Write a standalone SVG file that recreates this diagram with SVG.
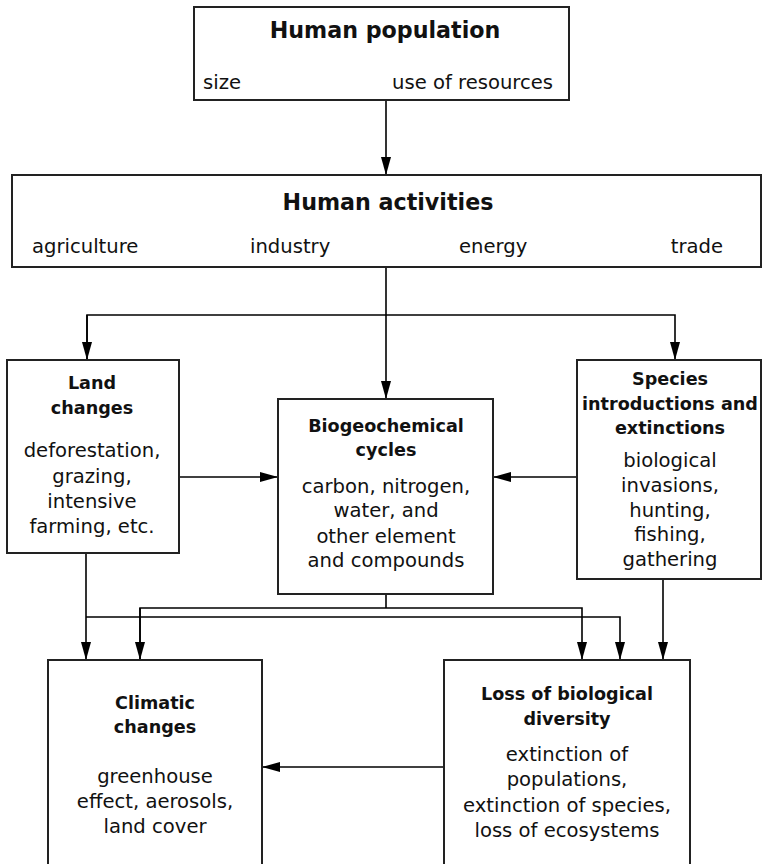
<svg xmlns="http://www.w3.org/2000/svg" width="765" height="864" viewBox="0 0 765 864">
  <style>
    .box { fill: #ffffff; stroke: #222222; stroke-width: 2; }
    .wire { fill: none; stroke: #000000; stroke-width: 1.6; }
    text { font-family: "DejaVu Sans", "Open Sans", sans-serif; font-size: 19.6px; fill: #111111; }
    .t { font-weight: bold; font-size: 17.6px; }
    .big { font-weight: bold; font-size: 22.2px; }
    .c { text-anchor: middle; }
  </style>
  <defs>
    <marker id="arrow" markerWidth="18" markerHeight="10" refX="18" refY="5" orient="auto" markerUnits="userSpaceOnUse">
      <path d="M0,0 L18,5 L0,10 Z" fill="#000000"/>
    </marker>
  </defs>
  <rect width="765" height="864" fill="#ffffff"/>

  <!-- connectors -->
  <g id="connectors" class="wire">
    <line x1="386" y1="100" x2="386" y2="175" marker-end="url(#arrow)"/>
    <line x1="386" y1="267" x2="386" y2="399" marker-end="url(#arrow)"/>
    <polyline points="87,360 87,315 675,315 675,360" marker-end="url(#arrow)"/>
    <line x1="87" y1="315" x2="87" y2="360" marker-end="url(#arrow)"/>
    <line x1="179" y1="477" x2="278" y2="477" marker-end="url(#arrow)"/>
    <line x1="577" y1="477" x2="493" y2="477" marker-end="url(#arrow)"/>
    <line x1="386" y1="594" x2="386" y2="608"/>
    <polyline points="140,660 140,608 582,608 582,660" marker-end="url(#arrow)"/>
    <line x1="140" y1="608" x2="140" y2="660" marker-end="url(#arrow)"/>
    <line x1="86" y1="553" x2="86" y2="660" marker-end="url(#arrow)"/>
    <polyline points="86,617 620,617 620,660" marker-end="url(#arrow)"/>
    <line x1="663" y1="579" x2="663" y2="660" marker-end="url(#arrow)"/>
    <line x1="444" y1="767" x2="262" y2="767" marker-end="url(#arrow)"/>
  </g>

  <g id="human-population">
    <rect class="box" x="194" y="7" width="375" height="93"/>
    <text class="big c" x="385" y="38">Human population</text>
    <text x="203" y="89">size</text>
    <text x="553" y="89" text-anchor="end">use of resources</text>
  </g>

  <g id="human-activities">
    <rect class="box" x="12" y="175" width="749" height="92"/>
    <text class="big c" x="388" y="210">Human activities</text>
    <text x="32" y="253">agriculture</text>
    <text x="250" y="253">industry</text>
    <text x="459" y="253">energy</text>
    <text x="723" y="253" text-anchor="end">trade</text>
  </g>

  <g id="land-changes">
    <rect class="box" x="7" y="360" width="172" height="193"/>
    <text class="t c" x="92" y="389">Land</text>
    <text class="t c" x="92" y="414">changes</text>
    <text class="c" x="92" y="457">deforestation,</text>
    <text class="c" x="92" y="483">grazing,</text>
    <text class="c" x="92" y="508">intensive</text>
    <text class="c" x="92" y="533">farming, etc.</text>
  </g>

  <g id="biogeochemical-cycles">
    <rect class="box" x="278" y="399" width="215" height="195"/>
    <text class="t c" x="386" y="432">Biogeochemical</text>
    <text class="t c" x="386" y="456">cycles</text>
    <text class="c" x="386" y="493">carbon, nitrogen,</text>
    <text class="c" x="386" y="517">water, and</text>
    <text class="c" x="386" y="543">other element</text>
    <text class="c" x="386" y="567">and compounds</text>
  </g>

  <g id="species-introductions">
    <rect class="box" x="577" y="360" width="184" height="219"/>
    <text class="t c" x="670" y="385">Species</text>
    <text class="t c" x="670" y="410">introductions and</text>
    <text class="t c" x="670" y="434">extinctions</text>
    <text class="c" x="670" y="467">biological</text>
    <text class="c" x="670" y="492">invasions,</text>
    <text class="c" x="670" y="517">hunting,</text>
    <text class="c" x="670" y="541">fishing,</text>
    <text class="c" x="670" y="566">gathering</text>
  </g>

  <g id="climatic-changes">
    <rect class="box" x="48" y="660" width="214" height="214"/>
    <text class="t c" x="155" y="709">Climatic</text>
    <text class="t c" x="155" y="733">changes</text>
    <text class="c" x="155" y="783">greenhouse</text>
    <text class="c" x="155" y="808">effect, aerosols,</text>
    <text class="c" x="155" y="833">land cover</text>
  </g>

  <g id="loss-of-biodiversity">
    <rect class="box" x="444" y="660" width="246" height="214"/>
    <text class="t c" x="567" y="700">Loss of biological</text>
    <text class="t c" x="567" y="725">diversity</text>
    <text class="c" x="567" y="761">extinction of</text>
    <text class="c" x="567" y="786">populations,</text>
    <text class="c" x="567" y="812">extinction of species,</text>
    <text class="c" x="567" y="837">loss of ecosystems</text>
  </g>
</svg>
